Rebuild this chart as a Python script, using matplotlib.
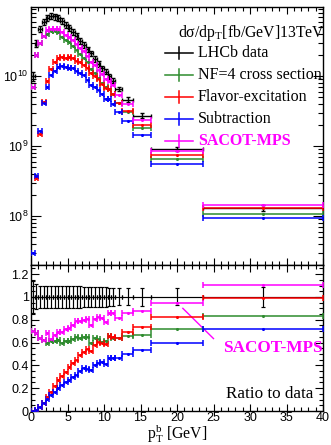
import numpy as np
import matplotlib
matplotlib.use("Agg")
import matplotlib.pyplot as plt
from matplotlib.lines import Line2D
from matplotlib.ticker import (MultipleLocator, FuncFormatter, LogLocator,
                               NullFormatter)

plt.rcParams['mathtext.default'] = 'regular'

# ---------------- data ----------------
edges = [0.0, 0.5, 1.0, 1.5, 2.0, 2.5, 3.0, 3.5, 4.0, 4.5, 5.0, 5.5, 6.0, 6.5,
         7.0, 7.5, 8.0, 8.5, 9.0, 9.5, 10.0, 10.5, 11.0, 11.5, 12.5, 14.0,
         16.5, 23.5, 40.0]

lhcb = [1.0e10, 2.9e10, 4.7e10, 6.0e10, 6.7e10, 7.3e10, 7.1e10, 6.7e10,
        6.1e10, 5.4e10, 4.9e10, 4.3e10, 3.7e10, 3.2e10, 2.8e10, 2.4e10,
        2.1e10, 1.75e10, 1.48e10, 1.3e10, 1.15e10, 1.0e10, 8.6e9, 6.5e9,
        4.6e9, 2.7e9, 9.1e8, 1.3e8]
lhcb_relerr = [0.14, 0.11, 0.10, 0.10, 0.10, 0.10, 0.10, 0.10, 0.10, 0.10,
               0.10, 0.10, 0.10, 0.10, 0.09, 0.09, 0.09, 0.09, 0.09, 0.085,
               0.085, 0.08, 0.08, 0.075, 0.075, 0.08, 0.075, 0.09]

ratio_nf4 = [0.70, 0.68, 0.64, 0.62, 0.60, 0.61, 0.615, 0.625, 0.60, 0.61,
             0.615, 0.63, 0.645, 0.64, 0.645, 0.65, 0.60, 0.64, 0.635, 0.605,
             0.61, 0.66, 0.64, 0.64, 0.655, 0.67, 0.717, 0.83]
ratio_fe = [0.001, 0.012, 0.032, 0.07, 0.125, 0.17, 0.22, 0.27, 0.31, 0.34,
            0.385, 0.42, 0.45, 0.49, 0.52, 0.545, 0.53, 0.58, 0.605, 0.60,
            0.59, 0.655, 0.65, 0.64, 0.69, 0.735, 0.825, 0.995]
ratio_sub = [0.003, 0.013, 0.035, 0.068, 0.105, 0.14, 0.165, 0.20, 0.23,
             0.25, 0.27, 0.30, 0.32, 0.35, 0.375, 0.37, 0.36, 0.40, 0.425,
             0.43, 0.415, 0.465, 0.465, 0.465, 0.497, 0.532, 0.60, 0.717]
ratio_sacot = [0.70, 0.685, 0.64, 0.62, 0.68, 0.635, 0.67, 0.69, 0.695,
               0.72, 0.725, 0.75, 0.785, 0.79, 0.80, 0.805, 0.75, 0.81,
               0.825, 0.815, 0.78, 0.855, 0.855, 0.815, 0.855, 0.877,
               0.947, 1.105]

labels = ["LHCb data", "NF=4 cross section", "Flavor-excitation",
          "Subtraction", "SACOT-MPS"]
colors = ["black", "#2e8b2e", "#ff0000", "#0000ff", "#ff00ff"]

# ---------------- derived ----------------
e = np.array(edges)
xc = 0.5 * (e[1:] + e[:-1])
hw = 0.5 * (e[1:] - e[:-1])
data = np.array(lhcb)
rel = np.array(lhcb_relerr)
ratios = [np.array(ratio_nf4), np.array(ratio_fe), np.array(ratio_sub),
          np.array(ratio_sacot)]

W, H = 331, 445
fig = plt.figure(figsize=(W / 100, H / 100), dpi=100)

L, R = 31, 323
T1, B1 = 7, 265
B2 = 411
ax1 = fig.add_axes([L / W, 1 - B1 / H, (R - L) / W, (B1 - T1) / H])
ax2 = fig.add_axes([L / W, 1 - B2 / H, (R - L) / W, (B2 - B1) / H])

lw = 1.1
# ---------- top panel ----------
ax1.errorbar(xc, data, xerr=hw, yerr=data * rel, fmt='none', ecolor='black',
             elinewidth=1.0, capsize=1.5, capthick=1.0, zorder=3)
for r, c in zip(ratios, colors[1:]):
    ax1.errorbar(xc, r * data, xerr=hw, fmt='o', ms=1.2, color=c, ecolor=c,
                 elinewidth=lw, capsize=2.2, capthick=lw, zorder=4)
ax1.set_yscale('log')
ax1.set_xlim(0, 40)
ax1.set_ylim(10 ** 7.3, 10 ** 10.986)

# ---------- ratio panel ----------
ax2.errorbar(xc, np.ones_like(xc), xerr=hw, yerr=rel, fmt='none',
             ecolor='black', elinewidth=0.85, capsize=1.6, capthick=0.85,
             zorder=3)
for r, c in zip(ratios, colors[1:]):
    ax2.errorbar(xc, r, xerr=hw, fmt='o', ms=1.2, color=c, ecolor=c,
                 elinewidth=lw, capsize=2.2, capthick=lw, zorder=4)
ax2.set_xlim(0, 40)
ax2.set_ylim(0, 1.28)

# annotation in ratio panel
ax2.plot([20.8, 25.0], [0.90, 0.635], color='#ff00ff', lw=1.0)
ax2.text(33.1, 0.55, "SACOT-MPS", color='#ff00ff', fontsize=12.3,
         fontweight='bold', family='Liberation Serif', ha='center',
         va='center')
ax2.text(0.818, 0.116, "Ratio to data", transform=ax2.transAxes,
         fontsize=12.3, family='Liberation Serif', ha='center', va='center')

# ---------- axes styling ----------
for ax in (ax1, ax2):
    for s in ax.spines.values():
        s.set_linewidth(1.0)
    ax.tick_params(which='both', direction='in', top=True, right=True,
                   width=0.8, labelsize=9.0, pad=1.5)
    ax.xaxis.set_major_locator(MultipleLocator(5))
    ax.xaxis.set_minor_locator(MultipleLocator(1))
    ax.tick_params(axis='x', which='major', length=5)
    ax.tick_params(axis='x', which='minor', length=2.6)

ax2.tick_params(axis='x', pad=0.5)
ax1.tick_params(axis='x', labelbottom=False)
ax1.tick_params(axis='y', which='major', length=7)
ax1.tick_params(axis='y', which='minor', length=3.6)
ax1.yaxis.set_major_locator(LogLocator(base=10, numticks=10))
ax1.yaxis.set_minor_locator(LogLocator(base=10, subs=np.arange(2, 10),
                                       numticks=20))
ax1.yaxis.set_minor_formatter(NullFormatter())
ax1.yaxis.set_major_formatter(
    FuncFormatter(lambda v, p: "10$^{%d}$" % round(np.log10(v))))

ax2.yaxis.set_major_locator(MultipleLocator(0.2))
ax2.yaxis.set_minor_locator(MultipleLocator(0.05))
ax2.tick_params(axis='y', which='major', length=6)
ax2.tick_params(axis='y', which='minor', length=3)
ax2.yaxis.set_major_formatter(FuncFormatter(lambda v, p: "%g" % round(v, 2)))
ax2.xaxis.set_major_formatter(FuncFormatter(lambda v, p: "%g" % v))

for ax in (ax1, ax2):
    for lab in ax.get_xticklabels() + ax.get_yticklabels():
        lab.set_family('Liberation Sans')
        lab.set_fontsize(9.0)

ax2.set_xlabel(r"p$_{T}^{b}$ [GeV]", fontsize=11.3, family='Liberation Serif')
ax2.xaxis.set_label_coords(0.5, -0.157)
ax2.xaxis.label.set_va('center')

# ---------- legend (drawn in figure pixel coordinates) ----------
def fx(x):
    return x / W


def fy(y):
    return 1 - y / H


fig.text(fx(178), fy(33), r"d$\sigma$/dp$_{T}$[fb/GeV]13TeV",
         family='Liberation Serif', fontsize=11.3, va='center', ha='left')
for i, (lab, c) in enumerate(zip(labels, colors)):
    yy = 53 + 22 * i
    fig.add_artist(Line2D([fx(165), fx(193)], [fy(yy), fy(yy)], color=c,
                          lw=1.1))
    fig.add_artist(Line2D([fx(179), fx(179)], [fy(yy - 6), fy(yy + 6)],
                          color=c, lw=1.1))
    kw = dict(family='Liberation Serif', fontsize=11.5, va='center',
              ha='left')
    if lab == "SACOT-MPS":
        kw.update(color=c, fontweight='bold')
    fig.text(fx(198), fy(yy), lab, **kw)

fig.savefig("out.png", dpi=100)
